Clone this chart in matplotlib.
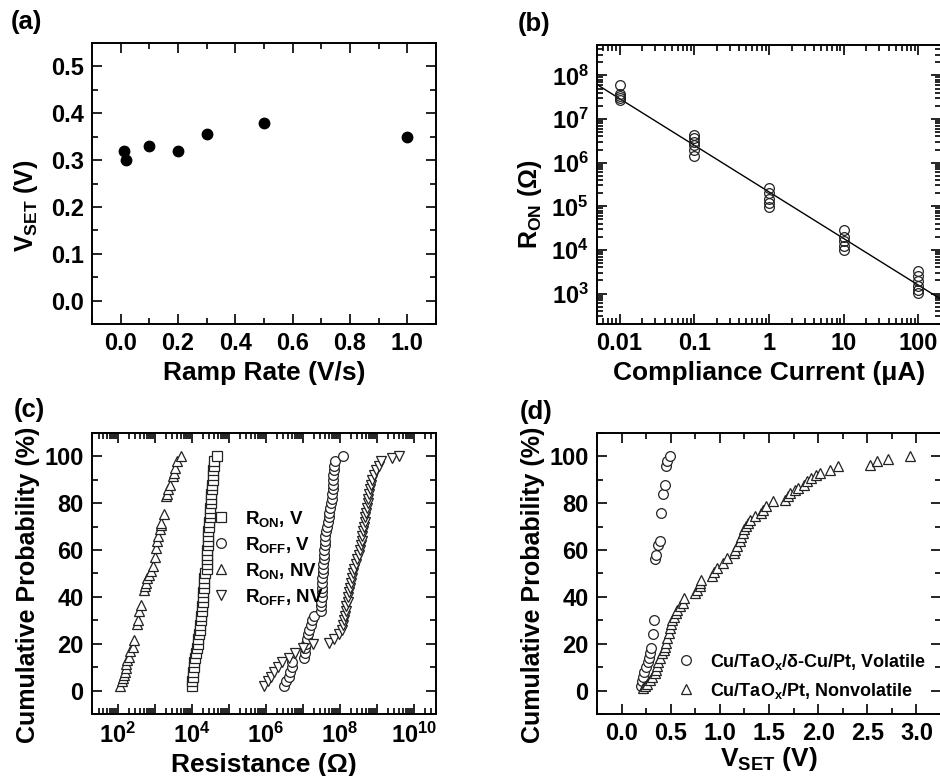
import numpy as np
import matplotlib
matplotlib.use('Agg')
import matplotlib.pyplot as plt
from matplotlib.ticker import MultipleLocator, FixedLocator, FixedFormatter, LogLocator, NullFormatter

plt.rcParams['font.family'] = ['Liberation Sans', 'DejaVu Sans']
plt.rcParams['font.weight'] = 'bold'
plt.rcParams['axes.labelweight'] = 'bold'
plt.rcParams['mathtext.fontset'] = 'custom'
plt.rcParams['mathtext.rm'] = 'Liberation Sans:bold'
plt.rcParams['mathtext.bf'] = 'Liberation Sans:bold'
plt.rcParams['mathtext.it'] = 'Liberation Sans:bold'
plt.rcParams['mathtext.default'] = 'bf'
plt.rcParams['axes.linewidth'] = 1.4

# ---------------- data ----------------
# (a)
a_rate = [0.01, 0.02, 0.1, 0.2, 0.3, 0.5, 1.0]
a_vset = [0.32, 0.30, 0.33, 0.32, 0.355, 0.38, 0.35]

# (b)
b_cc = [0.01, 0.01, 0.01, 0.01, 0.01,
        0.1, 0.1, 0.1, 0.1, 0.1, 0.1,
        1, 1, 1, 1, 1,
        10, 10, 10, 10, 10,
        100, 100, 100, 100, 100, 100]
b_ron = [6.0e7, 3.8e7, 3.4e7, 3.1e7, 2.8e7,
         4.3e6, 3.6e6, 3.0e6, 2.5e6, 1.95e6, 1.45e6,
         2.6e5, 2.0e5, 1.5e5, 1.2e5, 9.8e4,
         2.8e4, 2.0e4, 1.6e4, 1.2e4, 9.8e3,
         3.2e3, 2.5e3, 1.9e3, 1.5e3, 1.23e3, 1.05e3]
fit_slope = -1.07
fit_logR_at_1uA = 5.33

# (c)  log10(resistance) and cumulative probability (%)
c_ron_v_log = [4.00, 4.01, 4.02, 4.03, 4.05, 4.06, 4.08, 4.12, 4.14, 4.16,
               4.18, 4.19, 4.21, 4.23, 4.25, 4.26, 4.27, 4.28, 4.29, 4.30,
               4.31, 4.32, 4.33, 4.34, 4.36, 4.40, 4.41, 4.41, 4.42, 4.42,
               4.43, 4.43, 4.44, 4.45, 4.46, 4.47, 4.48, 4.49, 4.50, 4.51,
               4.52, 4.53, 4.54, 4.55, 4.56, 4.57, 4.58, 4.59, 4.61, 4.68]
c_ron_v_p = [2, 4, 6, 8, 10, 12, 14, 16, 18, 20, 22, 24, 26, 28, 30, 32, 34, 36, 38, 40,
             42, 44, 46, 48, 50, 52, 54, 56, 58, 60, 62, 64, 66, 68, 70, 72, 74, 76, 78, 80,
             82, 84, 86, 88, 90, 92, 94, 96, 98, 100]

c_roff_v_log = [6.50, 6.55, 6.62, 6.66, 6.70, 6.72, 7.04, 7.05, 7.06, 7.08,
                7.12, 7.15, 7.18, 7.22, 7.25, 7.30, 7.49, 7.50, 7.50, 7.51,
                7.52, 7.52, 7.53, 7.53, 7.54, 7.55, 7.56, 7.57, 7.58, 7.58,
                7.59, 7.60, 7.61, 7.63, 7.65, 7.67, 7.70, 7.72, 7.74, 7.76,
                7.78, 7.80, 7.81, 7.82, 7.82, 7.83, 7.84, 7.85, 7.87, 8.08]
c_roff_v_p = [2, 4, 6, 8, 10, 12, 14, 16, 18, 20, 22, 24, 26, 28, 30, 32, 34, 36, 38, 40,
              42, 44, 46, 48, 50, 52, 54, 56, 58, 60, 62, 64, 66, 68, 70, 72, 74, 76, 78, 80,
              82, 84, 86, 88, 90, 92, 94, 96, 98, 100]

c_ron_nv_log = [2.06, 2.12, 2.14, 2.17, 2.19, 2.21, 2.23, 2.26, 2.29, 2.34,
                2.40, 2.45, 2.52, 2.54, 2.56, 2.63, 2.71, 2.73, 2.77, 2.80,
                2.84, 2.90, 2.96, 3.00, 3.04, 3.07, 3.09, 3.13, 3.16, 3.18,
                3.25, 3.29, 3.32, 3.36, 3.40, 3.49, 3.52, 3.54, 3.60, 3.71]
c_ron_nv_p = [2.0, 4.0, 5.3, 6.5, 8.0, 9.5, 11.4, 13.0, 14.5, 16.7,
              18.5, 21.7, 28.5, 30.0, 33.8, 36.7, 43.0, 44.5, 46.0, 48.0,
              49.5, 51.0, 53.0, 57.0, 61.0, 64.0, 66.0, 68.8, 70.5, 71.6,
              75.5, 83.0, 84.0, 86.0, 88.0, 91.6, 93.0, 95.0, 98.0, 100.0]

c_roff_nv_log = [5.96, 6.05, 6.14, 6.23, 6.32, 6.45, 6.62, 6.78, 7.00, 7.27,
                 7.70, 7.85, 7.98, 8.06, 8.10, 8.12, 8.14, 8.16, 8.18, 8.21,
                 8.23, 8.25, 8.28, 8.30, 8.33, 8.36, 8.39, 8.43, 8.47, 8.51,
                 8.54, 8.57, 8.59, 8.61, 8.63, 8.65, 8.67, 8.69, 8.71, 8.73,
                 8.75, 8.77, 8.79, 8.81, 8.84, 8.88, 8.93, 8.99, 9.06, 9.12,
                 9.40, 9.61]
c_roff_nv_p = [2, 4, 6, 8, 10, 12, 14, 16, 18, 20,
               20.3, 22, 24, 26, 28, 30, 32, 34, 36, 38,
               40, 42, 44, 46, 48, 50, 52, 54, 56, 58,
               60, 62, 64, 66, 68, 70, 72, 74, 76, 78,
               80, 82, 84, 86, 88, 90, 92, 94, 96, 98,
               99.3, 100]

# (d)
d_vol_v = [0.20, 0.21, 0.22, 0.23, 0.25, 0.27, 0.28, 0.29, 0.30, 0.32, 0.33,
           0.34, 0.35, 0.37, 0.39, 0.40, 0.42, 0.44, 0.45, 0.46, 0.49]
d_vol_p = [2, 4, 6, 8, 10, 12, 14, 16, 18, 24, 30,
           56, 58, 62, 64, 76, 84, 88, 96, 98, 100]

d_nv_v = [0.22, 0.24, 0.26, 0.29, 0.31, 0.34, 0.35, 0.36, 0.37, 0.39,
          0.41, 0.43, 0.44, 0.45, 0.46, 0.48, 0.49, 0.50, 0.51, 0.53,
          0.55, 0.56, 0.59, 0.63, 0.64, 0.75, 0.77, 0.80, 0.80, 0.81,
          0.92, 0.94, 0.97, 1.03, 1.07, 1.14, 1.15, 1.17, 1.20, 1.22,
          1.24, 1.25, 1.27, 1.29, 1.31, 1.36, 1.42, 1.44, 1.47, 1.54,
          1.66, 1.69, 1.71, 1.76, 1.80, 1.86, 1.89, 1.93, 1.98, 2.02,
          2.12, 2.20, 2.53, 2.60, 2.71, 2.93]
d_nv_p = [1, 2, 3, 4.6, 6, 7.4, 9, 10.5, 12.4, 14,
          16, 17.5, 18.8, 20.5, 22.4, 24.5, 26.7, 28.5, 30.2, 31.5,
          33, 34.5, 36, 37.4, 39.5, 41.7, 43, 44.5, 46, 47.4,
          48.8, 50.5, 52.4, 54.5, 56.7, 58.8, 60.2, 61.6, 63.8, 65.5,
          67.4, 68.8, 70.2, 71.5, 73, 74.5, 75.9, 77.3, 78.7, 80.9,
          81.6, 83, 84.5, 85.5, 86.6, 88, 89.5, 90.9, 92, 93,
          94.4, 96.1, 96.5, 98, 99, 100]

# ---------------- figure ----------------
W, H = 940, 776
fig = plt.figure(figsize=(W / 100, H / 100), dpi=100)


def add_ax(l, t, r, b):
    return fig.add_axes([l / W, 1 - b / H, (r - l) / W, (b - t) / H])


TICK_FS = 17
XLAB_FS = 19
YLAB_FS = 18


def style(ax):
    ax.tick_params(which='both', direction='in', top=True, right=True,
                   width=1.2, labelsize=TICK_FS, pad=6)
    ax.tick_params(which='major', length=7)
    ax.tick_params(which='minor', length=4)


ax_a = add_ax(92, 43, 436, 324)
ax_b = add_ax(597, 45, 941, 324)
ax_c = add_ax(92, 433, 436, 714)
ax_d = add_ax(597, 433, 941, 714)

# (a)
ax_a.plot(a_rate, a_vset, 'o', color='black', ms=7.5, ls='none')
ax_a.set_xlim(-0.1, 1.1)
ax_a.set_ylim(-0.05, 0.55)
ax_a.xaxis.set_major_locator(MultipleLocator(0.2))
ax_a.xaxis.set_minor_locator(MultipleLocator(0.1))
ax_a.yaxis.set_major_locator(MultipleLocator(0.1))
ax_a.yaxis.set_minor_locator(MultipleLocator(0.05))
ax_a.xaxis.set_major_formatter(matplotlib.ticker.FormatStrFormatter('%.1f'))
ax_a.yaxis.set_major_formatter(matplotlib.ticker.FormatStrFormatter('%.1f'))
style(ax_a)
ax_a.set_xlabel('Ramp Rate (V/s)', fontsize=XLAB_FS)
ax_a.set_ylabel(r'V$_{SET}$ (V)', fontsize=YLAB_FS)
ax_a.yaxis.set_label_coords(-0.15, 0.42)

# (b)
ax_b.set_xscale('log')
ax_b.set_yscale('log')
xx = np.array([0.005, 200.0])
ax_b.plot(xx, 10 ** (fit_logR_at_1uA + fit_slope * np.log10(xx)), '-', color='black', lw=1.0)
ax_b.plot(b_cc, b_ron, 'o', ms=7, mfc='none', mec='#222222', mew=0.9, ls='none')
ax_b.set_xlim(0.005, 200)
ax_b.set_ylim(2e2, 5e8)
ax_b.xaxis.set_major_locator(FixedLocator([0.01, 0.1, 1, 10, 100]))
ax_b.xaxis.set_major_formatter(FixedFormatter(['0.01', '0.1', '1', '10', '100']))
ax_b.xaxis.set_minor_locator(LogLocator(base=10, subs=np.arange(2, 10), numticks=20))
ax_b.xaxis.set_minor_formatter(NullFormatter())
ax_b.yaxis.set_major_locator(FixedLocator([1e3, 1e4, 1e5, 1e6, 1e7, 1e8]))
ax_b.yaxis.set_major_formatter(FixedFormatter([r'$10^{%d}$' % k for k in range(3, 9)]))
ax_b.yaxis.set_minor_locator(LogLocator(base=10, subs=np.arange(2, 10), numticks=20))
ax_b.yaxis.set_minor_formatter(NullFormatter())
style(ax_b)
ax_b.set_xlabel('Compliance Current (\u03bcA)', fontsize=XLAB_FS)
ax_b.set_ylabel('R$_{ON}$ (\u03a9)', fontsize=YLAB_FS)
ax_b.yaxis.set_label_coords(-0.155, 0.43)

# (c)
mk = dict(ms=7, mfc='white', mec='#222222', mew=0.9, ls='none')
h1, = ax_c.plot(np.power(10.0, c_ron_v_log), c_ron_v_p, 's', label='R$_{ON}$, V', **mk)
h2, = ax_c.plot(np.power(10.0, c_roff_v_log), c_roff_v_p, 'o', label='R$_{OFF}$, V', **mk)
h3, = ax_c.plot(np.power(10.0, c_ron_nv_log), c_ron_nv_p, '^', label='R$_{ON}$, NV', **mk)
h4, = ax_c.plot(np.power(10.0, c_roff_nv_log), c_roff_nv_p, 'v', label='R$_{OFF}$, NV', **mk)
ax_c.set_xscale('log')
ax_c.set_xlim(2e1, 4e10)
ax_c.set_ylim(-10, 110)
ax_c.xaxis.set_major_locator(FixedLocator([10.0 ** k for k in range(2, 11)]))
ax_c.xaxis.set_major_formatter(FixedFormatter([r'$10^{%d}$' % k if k % 2 == 0 else '' for k in range(2, 11)]))
ax_c.xaxis.set_minor_locator(LogLocator(base=10, subs=np.arange(2, 10), numticks=30))
ax_c.xaxis.set_minor_formatter(NullFormatter())
ax_c.yaxis.set_major_locator(MultipleLocator(20))
ax_c.yaxis.set_minor_locator(MultipleLocator(10))
style(ax_c)
ax_c.set_xlabel('Resistance (\u03a9)', fontsize=XLAB_FS)
ax_c.set_ylabel('Cumulative Probability (%)', fontsize=YLAB_FS)
ax_c.yaxis.set_label_coords(-0.15, 0.46)
ax_c.legend(handles=[h1, h2, h3, h4], loc='upper left', bbox_to_anchor=(0.349, 0.73),
            frameon=False, fontsize=13.5, handlelength=1.0, handletextpad=0.75,
            borderpad=0, borderaxespad=0, labelspacing=0.32)

# (d)
ax_d.plot(d_vol_v, d_vol_p, 'o', label='Cu/TaO$_{x}$/\u03b4-Cu/Pt, Volatile', **mk)
ax_d.plot(d_nv_v, d_nv_p, '^', label='Cu/TaO$_{x}$/Pt, Nonvolatile', **mk)
ax_d.set_xlim(-0.25, 3.25)
ax_d.set_ylim(-10, 110)
ax_d.xaxis.set_major_locator(MultipleLocator(0.5))
ax_d.xaxis.set_minor_locator(MultipleLocator(0.25))
ax_d.xaxis.set_major_formatter(matplotlib.ticker.FormatStrFormatter('%.1f'))
ax_d.yaxis.set_major_locator(MultipleLocator(20))
ax_d.yaxis.set_minor_locator(MultipleLocator(10))
style(ax_d)
ax_d.set_xlabel(r'V$_{SET}$ (V)', fontsize=XLAB_FS, labelpad=0)
ax_d.set_ylabel('Cumulative Probability (%)', fontsize=YLAB_FS)
ax_d.yaxis.set_label_coords(-0.15, 0.46)
ax_d.legend(loc='upper left', bbox_to_anchor=(0.23, 0.222), frameon=False, fontsize=13,
            handlelength=1.05, handletextpad=0.8, borderpad=0, borderaxespad=0, labelspacing=0.5)

# panel labels
for txt, x, y in [('(a)', 11, 10), ('(b)', 518, 12), ('(c)', 14, 398), ('(d)', 520, 400)]:
    fig.text(x / W, 1 - y / H, txt, fontsize=18.5, fontweight='bold', ha='left', va='top')

fig.savefig('out.png', dpi=100)
